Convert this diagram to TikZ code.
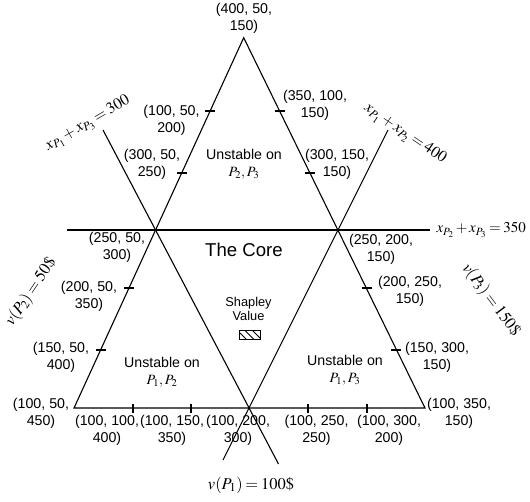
\documentclass[tikz,border=0pt]{standalone}
\usepackage{amsmath}
\usepackage{mathptmx}
\usepackage[no-math]{fontspec}
\setmainfont{Liberation Sans}
\medmuskip=2mu
\thickmuskip=3mu
\usetikzlibrary{calc}

\begin{document}
\begin{tikzpicture}[x=1pt, y=-1pt, line width=1.1pt,
    lbl/.style={align=center, inner sep=0pt, font=\fontsize{14.2}{17}\selectfont},
    small/.style={align=center, inner sep=0pt, font=\fontsize{12.8}{14}\selectfont},
    mlbl/.style={inner sep=0pt, font=\fontsize{15}{18}\selectfont},
    vlbl/.style={inner sep=0pt, font=\fontsize{16.5}{20}\selectfont}]
  \useasboundingbox (0,0) rectangle (530,501);
  % Corners of the big triangle
  \coordinate (A) at (243.7,37.7);
  \coordinate (BL) at (74,408);
  \coordinate (BR) at (425,408);
  % Ends of the three constraint lines
  \coordinate (H1) at (67,230);
  \coordinate (H2) at (430,230);
  \coordinate (L1) at (103,130);
  \coordinate (L2) at (278.5,464);
  \coordinate (R1) at (388,130);
  \coordinate (R2) at (223,460);
  % Big triangle
  \draw (BL) -- (A) -- (BR) -- cycle;
  % Constraint lines
  \draw (H1) -- (H2);
  \draw (L1) -- (L2);
  \draw (R1) -- (R2);
  % Ticks on left edge
  \draw (205,111) -- (215,111) (177,173) -- (187,173) (124,288) -- (134,288) (96,350) -- (106,350);
  % Ticks on right edge
  \draw (275,111) -- (285,111) (305,173) -- (315,173) (362,288) -- (372,288) (391,350) -- (401,350);
  % Ticks on base
  \draw (133,404) -- (133,413) (191,404) -- (191,413) (308,404) -- (308,413) (367,404) -- (367,413);

  % Imputations at the corners and ticks
  \node[lbl] (pA) at (244,18.5) {(400, 50,\\150)};
  \node[lbl] (pL1) at (171.5,120) {(100, 50,\\200)};
  \node[lbl] (pL2) at (152,164.5) {(300, 50,\\250)};
  \node[lbl] (pL3) at (117,247) {(250, 50,\\300)};
  \node[lbl] (pL4) at (89,296) {(200, 50,\\350)};
  \node[lbl] (pL5) at (61,357.5) {(150, 50,\\400)};
  \node[lbl] (pBL) at (41,413.5) {(100, 50,\\450)};
  \node[lbl] (pR1) at (315,105) {(350, 100,\\150)};
  \node[lbl] (pR2) at (337,164.5) {(300, 150,\\150)};
  \node[lbl] (pR3) at (381,249) {(250, 200,\\150)};
  \node[lbl] (pR4) at (410,291.5) {(200, 250,\\150)};
  \node[lbl] (pR5) at (437,357) {(150, 300,\\150)};
  \node[lbl] (pBR) at (459,413.5) {(100, 350,\\150)};
  \node[lbl] (pB1) at (107,430.5) {(100, 100,\\400)};
  \node[lbl] (pB2) at (172,430.5) {(100, 150,\\350)};
  \node[lbl] (pB3) at (238,430.5) {(100, 200,\\300)};
  \node[lbl] (pB4) at (316.5,430.5) {(100, 250,\\250)};
  \node[lbl] (pB5) at (389,430.5) {(100, 300,\\200)};

  % Regions
  \node[lbl] (top) at (244,164.5) {Unstable on\\$P_2, P_3$};
  \node[inner sep=0pt, anchor=base, font=\fontsize{18.6}{20}\selectfont] (core) at (244,256) {The Core};
  \node[lbl] (left) at (162,372) {Unstable on\\$P_1, P_2$};
  \node[lbl] (right) at (345,370) {Unstable on\\$P_1, P_3$};
  \node[small] (shap) at (248.5,309) {Shapley\\Value};
  % Shapley value box
  \draw[line width=0.9pt] (239,330) rectangle (260,339);
  \begin{scope}
    \clip (239,330) rectangle (260,339);
    \draw[line width=0.8pt] (237,330) -- (246,339) (244.5,330) -- (253.5,339) (252,330) -- (261,339);
  \end{scope}

  % Line equations
  \node[mlbl, rotate=30, font=\fontsize{16}{18}\selectfont] (eqL) at (88,124) {$x_{P_1}+x_{P_3}=300$};
  \node[mlbl, rotate=-34, font=\fontsize{16}{18}\selectfont] (eqR) at (405,134) {$x_{P_1}+x_{P_2}=400$};
  \node[mlbl, anchor=west] (eqH) at (436,230) {$x_{P_2}+x_{P_3}=350$};
  \node[vlbl, rotate=56] (v2) at (31,292) {$v(P_2)=50\$$};
  \node[vlbl, rotate=-53] (v3) at (491,300) {$v(P_3)=150\$$};
  \node[vlbl] (v1) at (251,485) {$v(P_1)=100\$$};
\end{tikzpicture}
\end{document}
